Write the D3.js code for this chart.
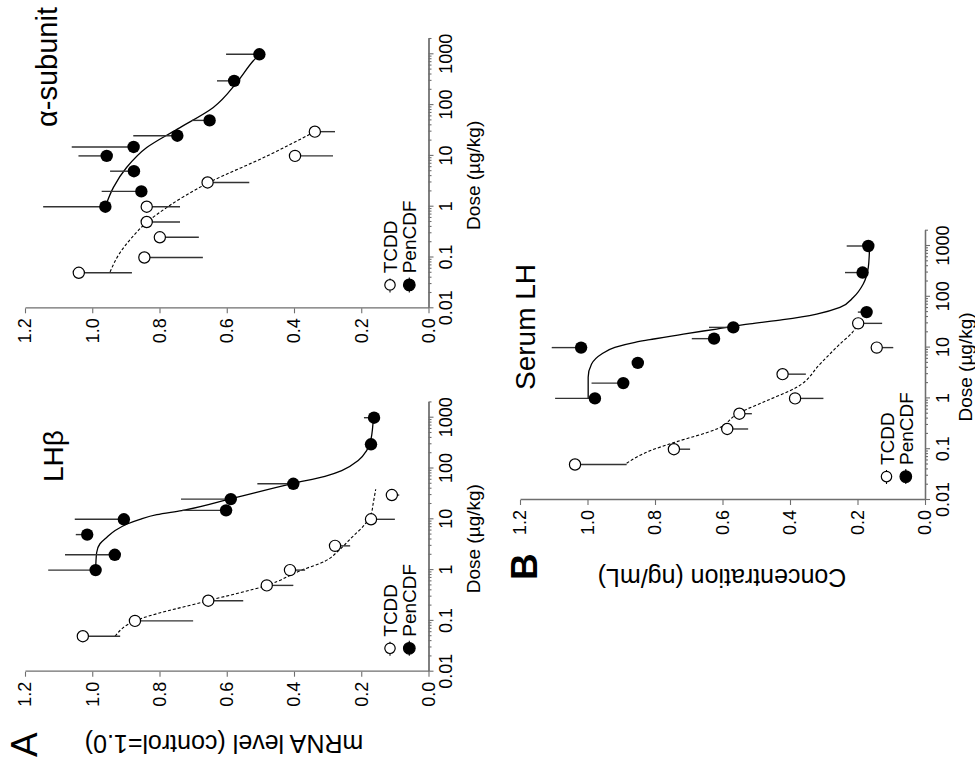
<!DOCTYPE html>
<html>
<head>
<meta charset="utf-8">
<script src="https://cdn.jsdelivr.net/npm/d3@7"></script>
<style>
  html, body { margin: 0; padding: 0; background: #fff; }
  svg { display: block; }
  text { font-family: "Liberation Sans", Arial, Helvetica, sans-serif; fill: #000; }
</style>
</head>
<body>
<svg id="fig" width="975" height="765"></svg>
<script>
// ---------------- axis ticks ----------------
const doseTicks = [0.01, 0.1, 1, 10, 100, 1000];
const doseTickLabels = ["0.01", "0.1", "1", "10", "100", "1000"];
const levelTicks = [0, 0.2, 0.4, 0.6, 0.8, 1.0, 1.2];
const levelTickLabels = ["0.0", "0.2", "0.4", "0.6", "0.8", "1.0", "1.2"];

// ---------------- LH beta mRNA ----------------
const lhbTcddDose  = [0.05, 0.1, 0.25, 0.5, 1, 3, 10, 30];
const lhbTcddLevel = [1.028, 0.873, 0.655, 0.481, 0.412, 0.278, 0.171, 0.109];
const lhbTcddErr   = [0.111, 0.173, 0.104, 0.079, 0.045, 0.045, 0.071, 0.022];
const lhbPenDose   = [1, 2, 5, 10, 15, 25, 50, 300, 1000];
const lhbPenLevel  = [0.990, 0.933, 1.015, 0.906, 0.602, 0.588, 0.402, 0.171, 0.162];
const lhbPenErr    = [0.141, 0.148, 0.034, 0.146, 0.130, 0.148, 0.107, 0.000, 0.030];
const lhbTcddFitDose  = [0.05, 0.1, 0.25, 0.5, 1, 1.5, 2.4, 4.4, 8, 12.7, 21.5, 39];
const lhbTcddFitLevel = [0.932, 0.873, 0.655, 0.481, 0.377, 0.308, 0.268, 0.228, 0.189, 0.171, 0.164, 0.157];
const lhbPenFitDose   = [1, 2.2, 3.3, 4.4, 6, 8, 10, 12.3, 14.8, 26, 51, 70, 91, 143, 224, 380, 1000];
const lhbPenFitLevel  = [0.990, 0.987, 0.977, 0.957, 0.932, 0.898, 0.858, 0.808, 0.734, 0.581, 0.402, 0.308, 0.258, 0.209, 0.184, 0.171, 0.164];

// ---------------- alpha-subunit mRNA ----------------
const aTcddDose  = [0.05, 0.1, 0.25, 0.5, 1, 3, 10, 30];
const aTcddLevel = [1.040, 0.845, 0.799, 0.838, 0.838, 0.657, 0.397, 0.338];
const aTcddErr   = [0.158, 0.174, 0.116, 0.099, 0.099, 0.124, 0.113, 0.060];
const aPenDose   = [1, 2, 5, 10, 15, 25, 50, 300, 1000];
const aPenLevel  = [0.961, 0.854, 0.876, 0.957, 0.877, 0.747, 0.651, 0.578, 0.503];
const aPenErr    = [0.185, 0.118, 0.071, 0.084, 0.184, 0.131, 0.052, 0.051, 0.099];
const aTcddFitDose  = [0.052, 0.117, 0.244, 0.49, 0.96, 2.9, 9.9, 30];
const aTcddFitLevel = [0.947, 0.920, 0.883, 0.838, 0.779, 0.657, 0.481, 0.338];
const aPenFitDose   = [1, 2.4, 5.9, 14.6, 33.7, 90, 279, 745, 1000];
const aPenFitLevel  = [0.961, 0.937, 0.898, 0.838, 0.747, 0.640, 0.570, 0.521, 0.503];

// ---------------- serum LH ----------------
const bTcddDose = [0.05, 0.1, 0.25, 0.5, 1, 3, 10, 30];
const bTcddConc = [1.037, 0.744, 0.586, 0.550, 0.385, 0.422, 0.143, 0.198];
const bTcddErr  = [0.153, 0.048, 0.062, 0.037, 0.084, 0.069, 0.049, 0.071];
const bPenDose  = [1, 2, 5, 10, 15, 25, 50, 300, 1000];
const bPenConc  = [0.978, 0.894, 0.851, 1.019, 0.625, 0.568, 0.173, 0.185, 0.168];
const bPenErr   = [0.118, 0.094, 0.000, 0.087, 0.066, 0.072, 0.026, 0.052, 0.064];
const bTcddFitDose = [0.053, 0.093, 0.135, 0.25, 0.52, 0.9, 1.66, 4.75, 11.8, 20, 30];
const bTcddFitConc = [0.884, 0.815, 0.744, 0.617, 0.551, 0.469, 0.380, 0.311, 0.252, 0.215, 0.198];
const bPenFitDose  = [1, 2.6, 4.75, 7.5, 10.1, 12.7, 14.3, 18.5, 23.2, 29.2, 35.4, 45.8, 62, 98, 179, 380, 700, 1000];
const bPenFitConc  = [0.998, 0.998, 0.988, 0.958, 0.919, 0.859, 0.815, 0.716, 0.617, 0.519, 0.421, 0.321, 0.252, 0.212, 0.183, 0.168, 0.165, 0.164];

const seriesNames = ["TCDD", "PenCDF"];

// ---------------- layout (figure is laid out upright, then turned a quarter turn) ----------------
const FIG_W = 765;          // upright width
const DECADE = 50.8;        // px per decade on the dose axes
const AXIS_COLOR = "#6e6e6e";
const FONT = "'Liberation Sans', Arial, Helvetica, sans-serif";

const svg = d3.select("#fig");
const fig = svg.append("g").attr("transform", `translate(0,${FIG_W}) rotate(-90)`);

const zip = (a, b, c) => a.map((d, i) => ({ dose: d, val: b[i], err: c ? c[i] : 0 }));

const panels = [
  { u0: 93.3, vTop: 25, vBottom: 428.5, title: "LH\u03B2", titleX: 283, titleY: 63, titleSize: 28,
    doseTitleY: 480,
    tcdd: zip(lhbTcddDose, lhbTcddLevel, lhbTcddErr), pen: zip(lhbPenDose, lhbPenLevel, lhbPenErr),
    tcddFit: zip(lhbTcddFitDose, lhbTcddFitLevel), penFit: zip(lhbPenFitDose, lhbPenFitLevel) },
  { u0: 456.7, vTop: 25, vBottom: 428.5, title: "\u03B1-subunit", titleX: 638, titleY: 57, titleSize: 29,
    doseTitleY: 480,
    tcdd: zip(aTcddDose, aTcddLevel, aTcddErr), pen: zip(aPenDose, aPenLevel, aPenErr),
    tcddFit: zip(aTcddFitDose, aTcddFitLevel), penFit: zip(aPenFitDose, aPenFitLevel) },
  { u0: 265, vTop: 520, vBottom: 925, title: "Serum LH", titleX: 375, titleY: 535, titleSize: 28,
    doseTitleY: 972,
    tcdd: zip(bTcddDose, bTcddConc, bTcddErr), pen: zip(bPenDose, bPenConc, bPenErr),
    tcddFit: zip(bTcddFitDose, bTcddFitConc), penFit: zip(bPenFitDose, bPenFitConc) }
];

// minor ticks 2..9 in each decade up to the end of the axis
const minorTicks = [];
[0.01, 0.1, 1, 10, 100, 1000].forEach(dec => {
  for (let k = 2; k <= 9; k++) { const t = dec * k; if (t <= 2000.0001) minorTicks.push(t); }
});

function styleAxis(sel, size) {
  sel.attr("font-family", FONT).attr("font-size", size);
  sel.select(".domain").attr("stroke", AXIS_COLOR).attr("stroke-width", 1.3);
  sel.selectAll(".tick line").attr("stroke", AXIS_COLOR).attr("stroke-width", 1.1);
  sel.selectAll(".tick text").attr("fill", "#000");
}

function drawPanel(p) {
  const g = fig.append("g");
  const x = d3.scaleLog().domain([0.01, 2000]).range([p.u0, p.u0 + Math.log10(2000 / 0.01) * DECADE]);
  const y = d3.scaleLinear().domain([0, 1.2]).range([p.vBottom, p.vTop]);

  // dose axis: minor then major ticks
  g.append("g").attr("transform", `translate(0,${p.vBottom})`)
    .call(d3.axisBottom(x).tickValues(minorTicks).tickSize(3).tickSizeOuter(0).tickFormat(""))
    .call(s => styleAxis(s, 18));
  g.append("g").attr("transform", `translate(0,${p.vBottom})`)
    .call(d3.axisBottom(x).tickValues(doseTicks).tickSize(5).tickSizeOuter(0).tickPadding(6)
      .tickFormat((d, i) => doseTickLabels[i]))
    .call(s => styleAxis(s, 18));

  // level axis
  g.append("g").attr("transform", `translate(${p.u0},0)`)
    .call(d3.axisLeft(y).tickValues(levelTicks).tickSize(5).tickSizeOuter(0).tickPadding(5)
      .tickFormat((d, i) => levelTickLabels[i]))
    .call(s => styleAxis(s, 18));

  // dose axis title
  g.append("text")
    .attr("x", p.u0 + 133).attr("y", p.doseTitleY)
    .attr("text-anchor", "middle").attr("font-size", 19)
    .text("Dose (\u00B5g/kg)");

  // panel title
  g.append("text")
    .attr("x", p.titleX).attr("y", p.titleY)
    .attr("font-size", p.titleSize)
    .text(p.title);

  // fitted curves
  const line = d3.line().x(d => x(d.dose)).y(d => y(d.val)).curve(d3.curveMonotoneX);
  g.append("path").datum(p.tcddFit).attr("d", line)
    .attr("fill", "none").attr("stroke", "#000").attr("stroke-width", 1.1)
    .attr("stroke-dasharray", "3,2");
  g.append("path").datum(p.penFit).attr("d", line)
    .attr("fill", "none").attr("stroke", "#000").attr("stroke-width", 1.3);

  // one-sided error bars: TCDD below, PenCDF above
  g.append("g").selectAll("line").data(p.tcdd.filter(d => d.err > 0)).join("line")
    .attr("x1", d => x(d.dose)).attr("x2", d => x(d.dose))
    .attr("y1", d => y(d.val)).attr("y2", d => y(d.val - d.err))
    .attr("stroke", "#333").attr("stroke-width", 1.4);
  g.append("g").selectAll("line").data(p.pen.filter(d => d.err > 0)).join("line")
    .attr("x1", d => x(d.dose)).attr("x2", d => x(d.dose))
    .attr("y1", d => y(d.val)).attr("y2", d => y(d.val + d.err))
    .attr("stroke", "#333").attr("stroke-width", 1.4);

  // points
  g.append("g").selectAll("circle").data(p.tcdd).join("circle")
    .attr("cx", d => x(d.dose)).attr("cy", d => y(d.val)).attr("r", 5.6)
    .attr("fill", "#fff").attr("stroke", "#000").attr("stroke-width", 1.2);
  g.append("g").selectAll("circle").data(p.pen).join("circle")
    .attr("cx", d => x(d.dose)).attr("cy", d => y(d.val)).attr("r", 6.2)
    .attr("fill", "#000");

  // legend
  const lg = g.append("g");
  seriesNames.forEach((name, i) => {
    const cy = p.vBottom - 38.5 + i * 19.3;
    const cx = p.u0 + 23.4;
    lg.append("line").attr("x1", cx - 7.5).attr("x2", cx + 7.5).attr("y1", cy).attr("y2", cy)
      .attr("stroke", "#000").attr("stroke-width", 1.1)
      .attr("stroke-dasharray", i === 0 ? "2,2" : null);
    lg.append("circle").attr("cx", cx).attr("cy", cy).attr("r", i === 0 ? 5.2 : 5.8)
      .attr("fill", i === 0 ? "#fff" : "#000").attr("stroke", "#000").attr("stroke-width", 1.2);
    lg.append("text").attr("x", p.u0 + 35).attr("y", cy + 7)
      .attr("font-size", 19).text(name);
  });
}

panels.forEach(drawPanel);

// panel letters and shared level-axis titles
fig.append("text").attr("x", 8).attr("y", 37).attr("font-size", 37).text("A");
fig.append("text").attr("x", 185).attr("y", 537).attr("font-size", 37).attr("font-weight", "bold").text("B");
fig.append("text").attr("transform", "translate(30,224) rotate(-90)")
  .attr("text-anchor", "middle").attr("font-size", 25).text("mRNA level (control=1.0)");
fig.append("text").attr("transform", "translate(196,722) rotate(-90)")
  .attr("text-anchor", "middle").attr("font-size", 25).text("Concentration (ng/mL)");
</script>
</body>
</html>
